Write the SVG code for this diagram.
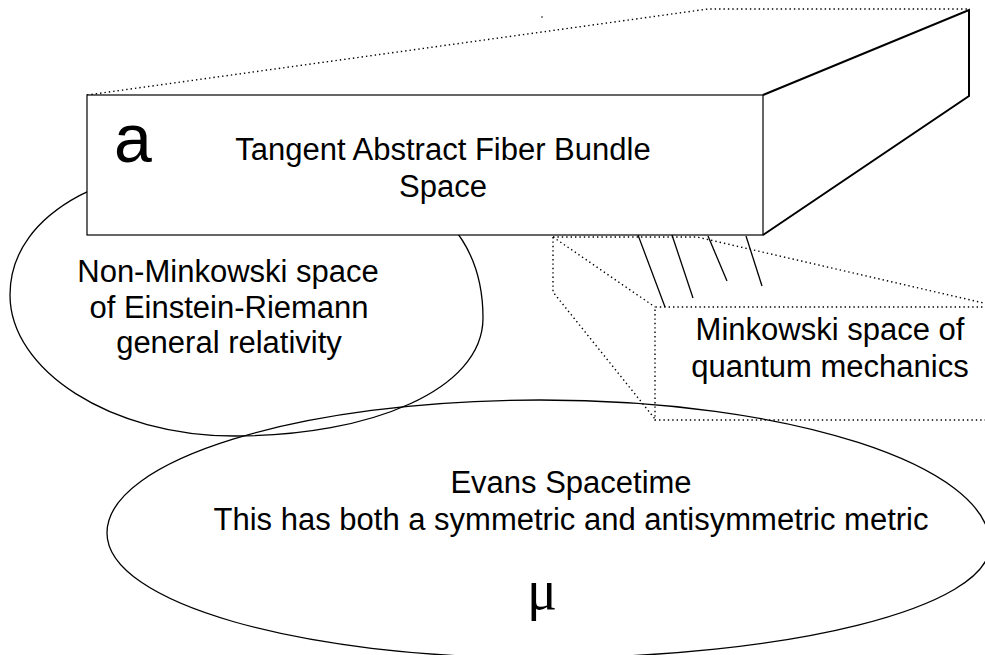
<svg xmlns="http://www.w3.org/2000/svg" width="985" height="655" viewBox="0 0 985 655">
<style>
  .t { font-family: "Liberation Sans", Arial, sans-serif; font-size: 31px; fill: #000; text-anchor: middle; }
  .solid { fill: none; stroke: #000; stroke-width: 2; }
  .thin { fill: none; stroke: #000; stroke-width: 1.3; }
  .dot { fill: none; stroke: #000; stroke-width: 1.4; stroke-dasharray: 1.4 3; }
</style>
<rect x="0" y="0" width="985" height="655" fill="#fff"/>

<g id="non-minkowski">
  <path class="thin" d="M10,295 C10,370 110,436 235,436 C370,436 483,390 483,318 C483,215 400,160 250,160 C115,160 10,210 10,295 Z"/>
  <text class="t" x="228" y="282">Non-Minkowski space</text>
  <text class="t" x="229" y="318">of Einstein-Riemann</text>
  <text class="t" x="229" y="353">general relativity</text>
</g>

<g id="fiber-bundle">
  <path class="dot" d="M87,95 L708,9 L969,9"/>
  <rect x="87" y="95" width="676" height="140" fill="#fff" stroke="#000" stroke-width="1.2"/>
  <path class="solid" d="M763,95 L969,10 L969,96 L763,235"/>
  <text x="114" y="162" style="font-family:'Liberation Sans', Arial, sans-serif; font-size:68px;">a</text>
  <text class="t" x="443" y="160">Tangent Abstract Fiber Bundle</text>
  <text class="t" x="443" y="197">Space</text>
  <circle cx="542" cy="17" r="0.8" fill="#000"/>
</g>

<g id="minkowski">
  <path class="dot" d="M553,237 L697,237 L1001,307"/>
  <path class="dot" d="M553,237 L553,292 L655,419"/>
  <path class="dot" d="M553,237 L655,307"/>
  <path class="dot" d="M1000,307 L655,307 L655,420 L1000,420"/>
  <text class="t" x="830" y="340">Minkowski space of</text>
  <text class="t" x="830" y="377">quantum mechanics</text>
</g>

<g id="connectors">
  <line class="thin" x1="638" y1="235" x2="665" y2="307"/>
  <line class="thin" x1="672" y1="235" x2="693" y2="298"/>
  <line class="thin" x1="708" y1="236" x2="727" y2="281"/>
  <line class="thin" x1="746" y1="236" x2="762" y2="286"/>
</g>

<g id="evans">
  <path class="thin" d="M107,533 C107,459.5 300.9,400 540,400 C788.5,400 990,464.9 990,545 C990,608 788.5,658 540,658 C300.9,658 107,603 107,533 Z"/>
  <text class="t" x="571" y="493">Evans Spacetime</text>
  <text class="t" x="571" y="530">This has both a symmetric and antisymmetric metric</text>
  <text x="542" y="609" style="font-family:'Liberation Serif', 'Times New Roman', serif; font-size:56px; text-anchor:middle;">μ</text>
</g>
</svg>
